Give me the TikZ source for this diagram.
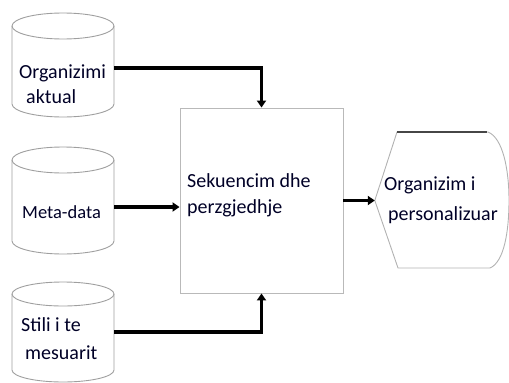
\documentclass[tikz,border=0pt]{standalone}
\usepackage{fontspec}
\setmainfont{Carlito}
\usetikzlibrary{arrows.meta,calc}
\begin{document}
\begin{tikzpicture}[x=1pt,y=-1pt,
  cyl/.style={draw=gray!75, line width=0.9pt},
  body/.style={inner sep=0pt, outer sep=0pt, minimum width=102pt},
  lbl/.style={anchor=west, align=left, inner sep=0pt, font=\fontsize{20}{26}\selectfont, text=black!85!blue},
  arr/.style={line width=3.2pt, -{Triangle[length=7pt,width=9pt]}},
  boxst/.style={draw=gray!55, line width=0.9pt, inner sep=0pt, minimum width=163pt, minimum height=185pt}
]
\useasboundingbox (0,0) rectangle (509,383);
% cylinder bodies
\node[body, minimum height=104pt] (c1) at (63,65) {};
\node[body, minimum height=107pt] (c2) at (63,200.5) {};
\node[body, minimum height=100pt] (c3) at (63,332) {};
\foreach \c/\t/\b/\r in {c1/13/117/13, c2/147/254/13, c3/282/382/12}{
  \draw[cyl] (63,\t+\r) ellipse[x radius=51, y radius=\r];
  \draw[cyl] (12,\t+\r) -- (12,\b-\r) arc[start angle=180, end angle=0, x radius=51, y radius=\r] -- (114,\t+\r);
}
% labels
\node[lbl, font=\fontsize{20}{25}\selectfont] (t1) at (19,84.5) {Organizimi\\\hspace*{7pt}aktual};
\node[lbl, font=\fontsize{18.5}{26}\selectfont] (t2) at (22,212) {Meta-data};
\node[lbl, font=\fontsize{20}{28}\selectfont] (t3) at (21,339) {Stili i te\\\hspace*{4pt}mesuarit};
% process box
\node[boxst] (b) at (261.5,200.5) {};
\node[lbl] (bt) at (187,195) {Sekuencim dhe\\perzgjedhje};
% display shape
\node[inner sep=0pt, minimum width=134pt, minimum height=136pt] (d) at (442,200.5) {};
\draw[draw=gray!60, line width=0.9pt] (d.west) -- (397,132) -- (488,132)
  .. controls (503,138) and (509,170) .. (509,200)
  .. controls (509,232) and (504,262) .. (490,268) -- (398,268) -- cycle;
\draw[draw=gray!55!black, line width=2pt] (397,132) -- (487,132);
\node[lbl, font=\fontsize{20}{30}\selectfont] (dt) at (384,200) {Organizim i\\\hspace*{4pt}personalizuar};
% connectors
\draw[arr] ([yshift=-3pt]c1.east) -| (b.north);
\draw[arr] ([yshift=-6.5pt]c2.east) -- ([yshift=-6.5pt]b.west);
\draw[arr] (c3.east) -| (b.south);
\draw[arr] (b.east) -- (d.west);
\end{tikzpicture}
\end{document}
